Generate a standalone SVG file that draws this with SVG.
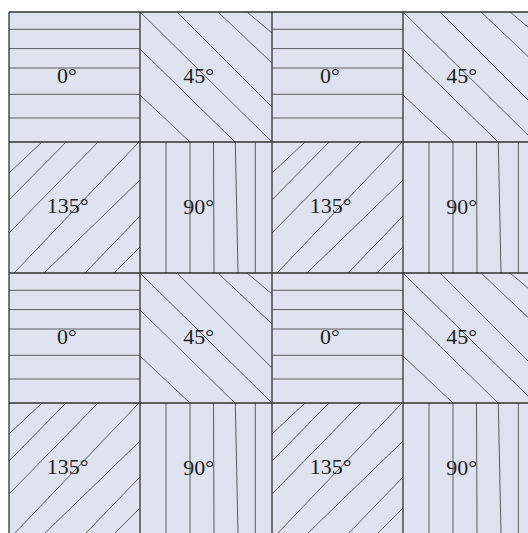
<svg xmlns="http://www.w3.org/2000/svg" xmlns:xlink="http://www.w3.org/1999/xlink" width="528" height="533" viewBox="0 0 528 533">
<style>
.bg{fill:#dee3ef;stroke:none}
.h{stroke:#3a3a3a;stroke-width:0.8;fill:none}
.b{stroke:#333;stroke-width:1.3;fill:none}
.t{font-family:"Liberation Serif","DejaVu Serif",serif;font-size:22px;fill:#222}
</style>
<defs>
<g id="h0">
<path class="h" d="M0 17.3H131M0 36.6H131M0 56H131M0 82.3H131M0 106H131"/>
</g>
<g id="h45">
<path class="h" d="M107 0L132 21M78 0L132 51M37 0L132 95M0 0L132 130M0 37L95 130M0 83L50 130"/>
</g>
<g id="h135">
<path class="h" d="M33 0L0 31M57 0L0 58M89 0L0 91M130 0L5 131M131 38L35 131M131 74L76 131M131 105L105 131"/>
</g>
<g id="h90">
<path class="h" d="M26 0V131M50 0V131M73.5 0L74 131M95.3 0L98 131M115.3 0V131"/>
</g>
</defs>
<rect width="528" height="533" fill="#fff"/>
<rect class="bg" x="9" y="12" width="530" height="530"/>
<g id="cells">
<g id="cell-r1c1"><use xlink:href="#h0" x="9" y="12"/><text class="t" x="57" y="83">0°</text></g>
<g id="cell-r1c2"><use xlink:href="#h45" x="140" y="12"/><text class="t" x="183.3" y="83.3">45°</text></g>
<g id="cell-r1c3"><use xlink:href="#h0" x="272" y="12"/><text class="t" x="320" y="83">0°</text></g>
<g id="cell-r1c4"><use xlink:href="#h45" x="403" y="12"/><text class="t" x="446.3" y="83.3">45°</text></g>
<g id="cell-r2c1"><use xlink:href="#h135" x="9" y="142"/><text class="t" x="46.7" y="213.3">135°</text></g>
<g id="cell-r2c2"><use xlink:href="#h90" x="140" y="142"/><text class="t" x="183.3" y="214">90°</text></g>
<g id="cell-r2c3"><use xlink:href="#h135" x="272" y="142"/><text class="t" x="309.7" y="213.3">135°</text></g>
<g id="cell-r2c4"><use xlink:href="#h90" x="403" y="142"/><text class="t" x="446.3" y="214">90°</text></g>
<g id="cell-r3c1"><use xlink:href="#h0" x="9" y="273"/><text class="t" x="57" y="344">0°</text></g>
<g id="cell-r3c2"><use xlink:href="#h45" x="140" y="273"/><text class="t" x="183.3" y="344.3">45°</text></g>
<g id="cell-r3c3"><use xlink:href="#h0" x="272" y="273"/><text class="t" x="320" y="344">0°</text></g>
<g id="cell-r3c4"><use xlink:href="#h45" x="403" y="273"/><text class="t" x="446.3" y="344.3">45°</text></g>
<g id="cell-r4c1"><use xlink:href="#h135" x="9" y="403"/><text class="t" x="46.7" y="474.3">135°</text></g>
<g id="cell-r4c2"><use xlink:href="#h90" x="140" y="403"/><text class="t" x="183.3" y="475">90°</text></g>
<g id="cell-r4c3"><use xlink:href="#h135" x="272" y="403"/><text class="t" x="309.7" y="474.3">135°</text></g>
<g id="cell-r4c4"><use xlink:href="#h90" x="403" y="403"/><text class="t" x="446.3" y="475">90°</text></g>
</g>
<g id="grid">
<path class="b" d="M9 12V533M140 12V533M272 12V533M403 12V533M9 12H528M9 142H528M9 273H528M9 403H528"/>
</g>
</svg>
